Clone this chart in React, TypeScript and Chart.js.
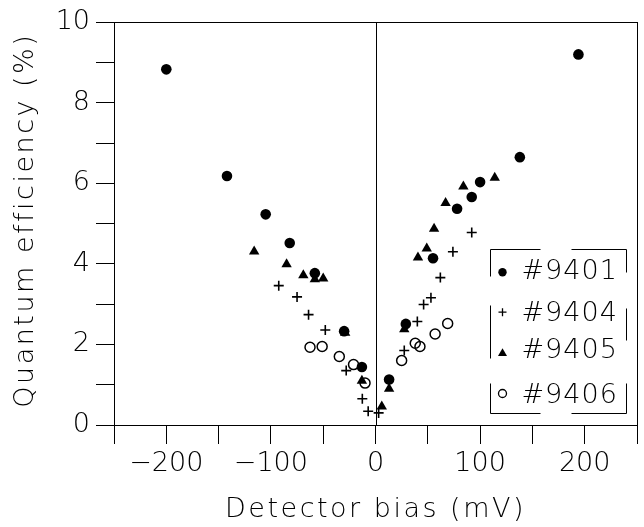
import React, { useEffect, useRef } from 'react';
import { Chart, registerables } from 'chart.js';

Chart.register(...registerables);

// ---- data ----
const seriesNames = ['#9401', '#9404', '#9405', '#9406'];

const bias9401 = [-200, -142, -105, -82, -58, -30, -13, 13, 29, 55, 78, 92, 100, 138, 194];
const qe9401 = [8.83, 6.18, 5.23, 4.52, 3.77, 2.33, 1.44, 1.13, 2.51, 4.14, 5.37, 5.66, 6.03, 6.65, 9.2];

const bias9404 = [-92.5, -75, -64, -48, -28, -12.6, -7, 3, 27.5, 40, 46, 53, 62, 74, 92];
const qe9404 = [3.46, 3.18, 2.74, 2.36, 1.35, 0.65, 0.34, 0.3, 1.85, 2.57, 2.99, 3.16, 3.66, 4.3, 4.78];

const bias9405 = [-116, -85, -69, -58, -50, -29, -13, 6, 13, 27.5, 40.6, 49, 56, 67, 84, 114];
const qe9405 = [4.31, 3.99, 3.72, 3.62, 3.64, 2.29, 1.1, 0.46, 0.9, 2.38, 4.16, 4.38, 4.87, 5.51, 5.92, 6.14];

const bias9406 = [-62.6, -51, -34.6, -21, -10, 25, 38, 42.5, 57, 69];
const qe9406 = [1.93, 1.95, 1.7, 1.5, 1.04, 1.6, 2.03, 1.95, 2.26, 2.52];

const xTickLabels = [-200, -100, 0, 100, 200];
const yTickLabels = [0, 2, 4, 6, 8, 10];
const xTitle = 'Detector bias (mV)';
const yTitle = 'Quantum efficiency (%)';

const FONT = '"DejaVu Sans", "Liberation Sans", sans-serif';

const toPoints = (xs: number[], ys: number[]) => xs.map((x, i) => ({ x, y: ys[i] }));
const fmt = (v: number) => (v < 0 ? '\u2212' + Math.abs(v) : String(v));

type Style = 'dot' | 'plus' | 'tri' | 'ring';
const legendStyles: Style[] = ['dot', 'plus', 'tri', 'ring'];

function drawMarker(ctx: CanvasRenderingContext2D, s: Style, x: number, y: number) {
  ctx.save();
  ctx.fillStyle = '#000';
  ctx.strokeStyle = '#000';
  ctx.beginPath();
  if (s === 'dot') {
    ctx.arc(x, y, 4.2, 0, Math.PI * 2);
    ctx.fill();
  } else if (s === 'plus') {
    ctx.lineWidth = 1.3;
    ctx.moveTo(x - 4, y); ctx.lineTo(x + 4, y);
    ctx.moveTo(x, y - 4); ctx.lineTo(x, y + 4);
    ctx.stroke();
  } else if (s === 'tri') {
    const r = 5.2;
    ctx.moveTo(x, y - r);
    ctx.lineTo(x + r * 0.866, y + r * 0.5);
    ctx.lineTo(x - r * 0.866, y + r * 0.5);
    ctx.closePath();
    ctx.fill();
  } else {
    ctx.lineWidth = 1.3;
    ctx.arc(x, y, 4, 0, Math.PI * 2);
    ctx.stroke();
  }
  ctx.restore();
}

const decor = {
  id: 'decor',
  beforeDatasetsDraw(chart: any) {
    const { ctx, chartArea: a, scales } = chart;
    const x0 = Math.round(scales.x.getPixelForValue(0)) + 0.5;
    ctx.save();
    ctx.strokeStyle = '#000';
    ctx.lineWidth = 1;
    ctx.beginPath();
    ctx.moveTo(x0, a.top);
    ctx.lineTo(x0, a.bottom);
    ctx.stroke();
    ctx.strokeRect(Math.round(a.left) + 0.5, Math.round(a.top) + 0.5, Math.round(a.right - a.left), Math.round(a.bottom - a.top));
    ctx.restore();
  },
  afterDraw(chart: any) {
    const { ctx, chartArea: a } = chart;
    ctx.save();
    // legend frame (bracket style)
    const L = Math.round(a.right - 147) + 0.5;
    const R = Math.round(a.right - 11) + 0.5;
    const T = Math.round(a.bottom - 176) + 0.5;
    const B = Math.round(a.bottom - 12) + 0.5;
    ctx.strokeStyle = '#000';
    ctx.lineWidth = 1;
    ctx.beginPath();
    ctx.moveTo(L, T); ctx.lineTo(L + 50, T);
    ctx.moveTo(L + 81, T); ctx.lineTo(R, T);
    ctx.moveTo(L, B); ctx.lineTo(L + 50, B);
    ctx.moveTo(L + 81, B); ctx.lineTo(R, B);
    ctx.moveTo(L, T); ctx.lineTo(L, T + 27);
    ctx.moveTo(L, T + 56); ctx.lineTo(L, T + 109);
    ctx.moveTo(L, T + 134); ctx.lineTo(L, B);
    ctx.moveTo(R, T); ctx.lineTo(R, T + 23);
    ctx.moveTo(R, T + 59); ctx.lineTo(R, T + 91);
    ctx.moveTo(R, T + 134); ctx.lineTo(R, B);
    ctx.stroke();

    const markerY = [22.7, 62.7, 104, 144];
    const textY = [29, 71, 108, 153];
    ctx.fillStyle = '#000';
    ctx.font = `200 27px ${FONT}`;
    ctx.textAlign = 'left';
    ctx.textBaseline = 'alphabetic';
    (ctx as any).letterSpacing = '1px';
    seriesNames.forEach((name, i) => {
      drawMarker(ctx, legendStyles[i], L + 12, T + markerY[i]);
      ctx.fillText(name, L + 31, T + textY[i]);
    });

    // axis titles
    (ctx as any).letterSpacing = '2.5px';
    ctx.textAlign = 'center';
    ctx.fillText(xTitle, (a.left + a.right) / 2, a.bottom + 92);
    ctx.translate(33, a.top + 198);
    ctx.rotate(-Math.PI / 2);
    ctx.fillText(yTitle, 0, 0);
    ctx.restore();
  },
};

export default function App() {
  const ref = useRef<HTMLCanvasElement | null>(null);

  useEffect(() => {
    document.body.style.margin = '0';
    const canvas = ref.current;
    if (!canvas) return;
    const tickFont = { family: FONT, size: 27, weight: '200' as any };
    const chart = new Chart(canvas, {
      type: 'scatter',
      data: {
        datasets: [
          {
            label: seriesNames[0],
            data: toPoints(bias9401, qe9401),
            pointStyle: 'circle',
            pointRadius: 5.3,
            backgroundColor: '#000',
            borderColor: '#000',
            borderWidth: 0,
          },
          {
            label: seriesNames[1],
            data: toPoints(bias9404, qe9404),
            pointStyle: 'cross',
            pointRadius: 5,
            backgroundColor: '#000',
            borderColor: '#000',
            borderWidth: 1.6,
          },
          {
            label: seriesNames[2],
            data: toPoints(bias9405, qe9405),
            pointStyle: 'triangle',
            pointRadius: 6,
            backgroundColor: '#000',
            borderColor: '#000',
            borderWidth: 0,
          },
          {
            label: seriesNames[3],
            data: toPoints(bias9406, qe9406),
            pointStyle: 'circle',
            pointRadius: 5,
            backgroundColor: 'rgba(0,0,0,0)',
            borderColor: '#000',
            borderWidth: 1.5,
          },
        ],
      },
      options: {
        responsive: false,
        animation: false,
        events: [],
        layout: { padding: { top: 21, right: 7, bottom: 0, left: 0 } },
        plugins: { legend: { display: false }, tooltip: { enabled: false }, title: { display: false } },
        scales: {
          x: {
            type: 'linear',
            min: -250,
            max: 250,
            afterFit: (s: any) => { s.height = 102; },
            ticks: {
              stepSize: 50,
              autoSkip: false,
              maxRotation: 0,
              padding: 4,
              color: '#000',
              font: tickFont,
              callback: (v: any) => (xTickLabels.includes(Number(v)) ? fmt(Number(v)) : ''),
            },
            grid: { drawOnChartArea: false, drawTicks: true, tickLength: 19, color: '#000', lineWidth: 1 },
            border: { display: true, color: '#000', width: 1 },
            title: { display: false },
          },
          y: {
            type: 'linear',
            min: 0,
            max: 10,
            afterFit: (s: any) => { s.width = 114; },
            ticks: {
              stepSize: 1,
              autoSkip: false,
              padding: 6,
              color: '#000',
              font: tickFont,
              callback: (v: any) => (yTickLabels.includes(Number(v)) ? fmt(Number(v)) : ''),
            },
            grid: { drawOnChartArea: false, drawTicks: true, tickLength: 18, color: '#000', lineWidth: 1 },
            border: { display: true, color: '#000', width: 1 },
            title: { display: false },
          },
        },
      },
      plugins: [decor],
    });
    return () => chart.destroy();
  }, []);

  return (
    <div style={{ width: 644, height: 527 }}>
      <canvas ref={ref} width={644} height={527} style={{ display: 'block' }} />
    </div>
  );
}
